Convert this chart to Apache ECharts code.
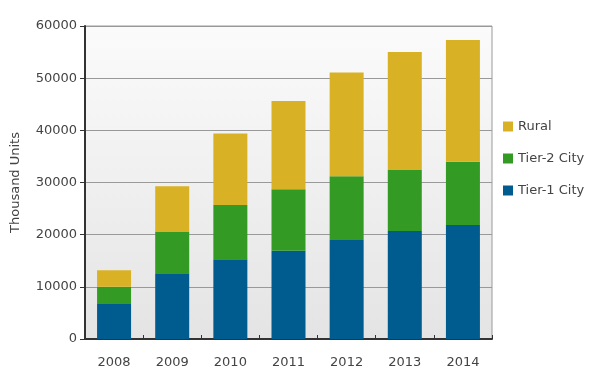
<!DOCTYPE html>
<html>
<head>
<meta charset="utf-8">
<script src="https://cdn.jsdelivr.net/npm/echarts@6/dist/echarts.min.js"></script>
<style>html,body{margin:0;padding:0;background:#fff}#c{width:591px;height:388px}</style>
</head>
<body>
<div id="c"></div>
<script>
var categories = ['2008','2009','2010','2011','2012','2013','2014'];
var tier1 = [6850, 12600, 15300, 16900, 19000, 20700, 21850];
var tier2 = [3150, 8000, 10400, 11800, 12200, 11700, 12150];
var rural = [3200, 8700, 13700, 16900, 19900, 22600, 23300];
var yTicks = [0, 10000, 20000, 30000, 40000, 50000, 60000];

var chart = echarts.init(document.getElementById('c'), null, {renderer: 'canvas'});
var font = 'DejaVu Sans';
chart.setOption({
  animation: false,
  textStyle: {fontFamily: font},
  grid: {
    left: 85, right: 99, top: 26, bottom: 49,
    show: true,
    borderColor: '#9a9a9a',
    borderWidth: 1,
    backgroundColor: new echarts.graphic.LinearGradient(0, 0, 0, 1, [
      {offset: 0, color: '#fbfbfb'},
      {offset: 1, color: '#e4e4e4'}
    ])
  },
  legend: {
    orient: 'vertical',
    left: 498, top: 115,
    itemWidth: 10, itemHeight: 10, itemGap: 19,
    icon: 'rect',
    textStyle: {fontFamily: font, fontSize: 13, color: '#444'},
    data: ['Rural', 'Tier-2 City', 'Tier-1 City']
  },
  xAxis: {
    type: 'category',
    data: categories,
    axisLine: {lineStyle: {color: '#333', width: 2}},
    axisTick: {show: true, inside: true, length: 4, lineStyle: {color: '#333'}},
    axisLabel: {fontFamily: font, fontSize: 13, color: '#444', margin: 17}
  },
  yAxis: {
    type: 'value',
    min: yTicks[0], max: yTicks[yTicks.length - 1], interval: 10000,
    name: 'Thousand Units',
    nameLocation: 'middle',
    nameGap: 63,
    nameTextStyle: {fontFamily: font, fontSize: 13, color: '#444'},
    axisLine: {show: true, lineStyle: {color: '#333', width: 2}},
    axisTick: {show: true, length: 5, lineStyle: {color: '#333'}},
    axisLabel: {fontFamily: font, fontSize: 13, color: '#444', margin: 8, formatter: function (v) { return String(v); }},
    splitLine: {lineStyle: {color: '#999', width: 1}}
  },
  series: [
    {name: 'Tier-1 City', type: 'bar', stack: 's', data: tier1, barWidth: 34, itemStyle: {color: '#005b8f'}},
    {name: 'Tier-2 City', type: 'bar', stack: 's', data: tier2, barWidth: 34, itemStyle: {color: '#339a24'}},
    {name: 'Rural', type: 'bar', stack: 's', data: rural, barWidth: 34, itemStyle: {color: '#d8b224'}}
  ]
});
</script>
</body>
</html>
